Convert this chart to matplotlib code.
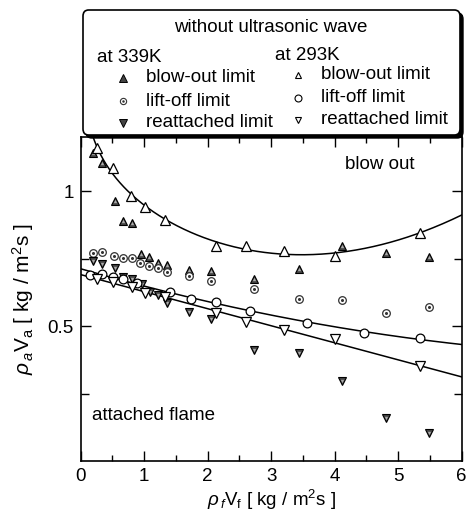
import numpy as np
import matplotlib.pyplot as plt
from matplotlib.patches import FancyBboxPatch
from matplotlib import font_manager as fm

# pick a narrow sans if there is one
try:
    fm.findfont('Liberation Sans Narrow', fallback_to_default=False)
    FONT = ['Liberation Sans Narrow', 'DejaVu Sans']
except Exception:
    FONT = ['Liberation Sans', 'DejaVu Sans']
plt.rcParams['font.family'] = FONT
plt.rcParams['mathtext.fontset'] = 'custom'
plt.rcParams['mathtext.rm'] = FONT[0]
plt.rcParams['mathtext.it'] = FONT[0] + ':italic'

# at 339K (no fit lines)
bo339_x = [0.19, 0.34, 0.54, 0.67, 0.81, 0.95, 1.08, 1.22, 1.36, 1.71, 2.05, 2.73, 3.43, 4.11, 4.80, 5.49]
bo339_y = [1.140, 1.105, 0.963, 0.890, 0.883, 0.767, 0.757, 0.734, 0.726, 0.707, 0.705, 0.673, 0.710, 0.797, 0.772, 0.754]
lo339_x = [0.19, 0.33, 0.53, 0.67, 0.81, 0.94, 1.08, 1.22, 1.36, 1.71, 2.05, 2.73, 3.43, 4.11, 4.80, 5.49]
lo339_y = [0.769, 0.774, 0.759, 0.753, 0.751, 0.732, 0.722, 0.714, 0.701, 0.685, 0.668, 0.638, 0.600, 0.595, 0.547, 0.571]
ra339_x = [0.19, 0.34, 0.54, 0.67, 0.81, 0.96, 1.09, 1.22, 1.36, 1.71, 2.05, 2.73, 3.43, 4.12, 4.80, 5.48]
ra339_y = [0.742, 0.730, 0.714, 0.680, 0.673, 0.656, 0.627, 0.615, 0.584, 0.553, 0.525, 0.411, 0.401, 0.296, 0.158, 0.105]

# at 293K (with fit lines)
bo293_x = [0.25, 0.51, 0.79, 1.01, 1.33, 2.13, 2.61, 3.20, 4.00, 5.34]
bo293_y = [1.158, 1.084, 0.983, 0.940, 0.893, 0.796, 0.796, 0.779, 0.760, 0.846]
lo293_x = [0.15, 0.34, 0.51, 0.66, 0.88, 1.41, 1.73, 2.13, 2.67, 3.56, 4.46, 5.34]
lo293_y = [0.689, 0.691, 0.683, 0.673, 0.660, 0.627, 0.600, 0.588, 0.556, 0.510, 0.475, 0.455]
ra293_x = [0.25, 0.51, 0.80, 1.01, 1.33, 2.13, 2.61, 3.20, 4.00, 5.34]
ra293_y = [0.673, 0.664, 0.646, 0.623, 0.609, 0.547, 0.516, 0.485, 0.451, 0.352]

W, H = 470, 515
FS = 13.5
fig = plt.figure(figsize=(W / 100, H / 100), dpi=100)

def fx(px):
    return px / W

def fy(py):
    return 1 - py / H

ax = fig.add_axes([fx(80.7), fy(461), fx(461.7) - fx(80.7), fy(137) - fy(461)])

# fitted curves through the 293K data
xs = np.linspace(0.02, 6, 400)
bx = np.array(bo293_x)
A = np.column_stack([np.ones_like(bx), bx, bx ** 2, np.log(bx)])
coef = np.linalg.lstsq(A, np.array(bo293_y), rcond=None)[0]
ax.plot(xs, coef[0] + coef[1] * xs + coef[2] * xs ** 2 + coef[3] * np.log(xs), 'k-', lw=1.1)
xs = np.linspace(0, 6, 300)
ax.plot(xs, np.polyval(np.polyfit(lo293_x, lo293_y, 2), xs), 'k-', lw=1.1)
ax.plot(xs, np.polyval(np.polyfit(ra293_x, ra293_y, 1), xs), 'k-', lw=1.1)

# 339K markers: grey filled with a lighter core
def filled(x, y, m, ms):
    ax.plot(x, y, m, ls='none', ms=ms, mfc='#444444', mec='k', mew=0.8)
    ax.plot(x, y, m, ls='none', ms=ms * 0.4, mfc='#aaaaaa', mec='none')

filled(bo339_x, bo339_y, '^', 6)
ax.plot(lo339_x, lo339_y, 'o', ls='none', ms=5.5, mfc='white', mec='#333333', mew=0.9)
ax.plot(lo339_x, lo339_y, 'o', ls='none', ms=2.2, mfc='#333333', mec='none')
filled(ra339_x, ra339_y, 'v', 6)

# 293K markers: open
ax.plot(bo293_x, bo293_y, '^', ls='none', ms=7.5, mfc='white', mec='k', mew=0.9)
ax.plot(lo293_x, lo293_y, 'o', ls='none', ms=6.3, mfc='white', mec='k', mew=0.9)
ax.plot(ra293_x, ra293_y, 'v', ls='none', ms=7.5, mfc='white', mec='k', mew=0.9)

ax.set_xlim(0, 6)
ax.set_ylim(0, 1.2)
ax.set_xticks(range(0, 7))
ax.set_xticks(np.arange(0.5, 6, 1), minor=True)
ax.set_yticks([0.5, 1])
ax.set_yticklabels(['0.5', '1'])
ax.set_yticks([0.25, 0.75], minor=True)
ax.tick_params(which='both', direction='in', top=True, right=True, labelsize=FS, width=1)
ax.tick_params(which='major', length=7, pad=5)
ax.tick_params(which='minor', length=4)
ax.tick_params(axis='y', which='minor', length=6)
for s in ax.spines.values():
    s.set_linewidth(1.2)

ax.text(4.17, 1.1, 'blow out', fontsize=FS, va='center')
ax.text(0.18, 0.17, 'attached flame', fontsize=FS, va='center')

ax.set_xlabel(r'$\rho_{\,f}$V$_{\rm f}$ [ kg / m$^{\rm 2}$s ]', fontsize=FS, labelpad=2)
ax.set_ylabel(r'$\rho_{\,a}$V$_{\rm a}$ [ kg / m$^{\rm 2}$s ]', fontsize=15, labelpad=8)

# legend box
shadow = FancyBboxPatch((fx(86), fy(138)), fx(460) - fx(83), fy(10) - fy(135),
                        boxstyle='round,pad=0,rounding_size=0.012',
                        transform=fig.transFigure, fc='black', ec='black', zorder=5)
box = FancyBboxPatch((fx(83), fy(135)), fx(460) - fx(83), fy(10) - fy(135),
                     boxstyle='round,pad=0,rounding_size=0.012',
                     transform=fig.transFigure, fc='white', ec='black', lw=1.2, zorder=6)
fig.patches.extend([shadow, box])

fig.text(fx(271), fy(27), 'without ultrasonic wave', fontsize=FS, ha='center', va='center', zorder=7)
fig.text(fx(97), fy(57), 'at 339K', fontsize=FS, va='center', zorder=7)
fig.text(fx(275), fy(55), 'at 293K', fontsize=FS, va='center', zorder=7)

labels = ['blow-out limit', 'lift-off limit', 'reattached limit']
rows339 = [78, 101, 123]
rows293 = [75, 98, 120]
for lab, r in zip(labels, rows339):
    fig.text(fx(146), fy(r), lab, fontsize=FS, va='center', zorder=7)
for lab, r in zip(labels, rows293):
    fig.text(fx(321), fy(r), lab, fontsize=FS, va='center', zorder=7)

kw = dict(transform=fig.transFigure, ls='none', zorder=8)
fig.add_artist(plt.Line2D([fx(123)], [fy(rows339[0])], marker='^', ms=5.5, mfc='#444444', mec='k', mew=0.7, **kw))
fig.add_artist(plt.Line2D([fx(123)], [fy(rows339[1])], marker='o', ms=4.5, mfc='white', mec='#333333', mew=0.8, **kw))
fig.add_artist(plt.Line2D([fx(123)], [fy(rows339[1])], marker='o', ms=1.8, mfc='#333333', mec='none', **kw))
fig.add_artist(plt.Line2D([fx(123)], [fy(rows339[2])], marker='v', ms=5.5, mfc='#444444', mec='k', mew=0.7, **kw))
for m, r in zip(['^', 'o', 'v'], rows293):
    fig.add_artist(plt.Line2D([fx(298)], [fy(r)], marker=m, ms=5, mfc='white', mec='k', mew=0.8, **kw))

fig.savefig('out.png', dpi=100)
